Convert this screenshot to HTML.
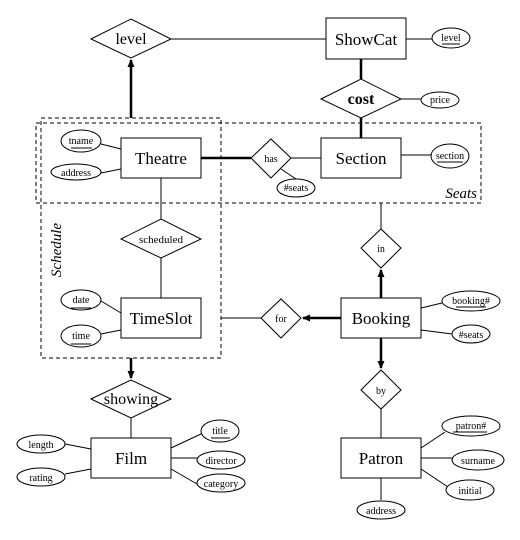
<!DOCTYPE html>
<html><head><style>body{margin:0;background:#fff}svg{display:block}</style></head><body>
<svg width="520" height="540" viewBox="0 0 520 540" xmlns="http://www.w3.org/2000/svg" font-family="Liberation Serif, serif">
<defs><marker id="ah" markerWidth="8" markerHeight="8" refX="7" refY="4" orient="auto" markerUnits="userSpaceOnUse"><path d="M0,0.5 L8,4 L0,7.5 Z" fill="#000"/></marker></defs>
<g fill="none" stroke="#000" stroke-width="1">
<rect x="41" y="118" width="180" height="240" stroke-dasharray="4,3"/>
<rect x="36" y="123" width="445" height="80" stroke-dasharray="4,3"/>
<line x1="171" y1="39" x2="326" y2="39"/>
<line x1="406" y1="39" x2="432" y2="39"/>
<line x1="401" y1="99" x2="421" y2="99"/>
<line x1="291" y1="158" x2="321" y2="158"/>
<line x1="401" y1="155" x2="431" y2="155"/>
<line x1="281" y1="169" x2="296" y2="179"/>
<line x1="101" y1="144" x2="121" y2="149"/>
<line x1="101" y1="173" x2="121" y2="169"/>
<line x1="161" y1="178" x2="161" y2="219"/>
<line x1="161" y1="258" x2="161" y2="298"/>
<line x1="381" y1="203" x2="381" y2="229"/>
<line x1="101" y1="301" x2="121" y2="313"/>
<line x1="101" y1="334" x2="121" y2="330"/>
<line x1="221" y1="318" x2="261" y2="318"/>
<line x1="421" y1="308" x2="442" y2="303"/>
<line x1="421" y1="330" x2="452" y2="334"/>
<line x1="381" y1="409" x2="381" y2="438"/>
<line x1="421" y1="448" x2="445" y2="432"/>
<line x1="421" y1="458" x2="452" y2="458"/>
<line x1="421" y1="469" x2="448" y2="487"/>
<line x1="381" y1="478" x2="381" y2="500"/>
<line x1="131" y1="418" x2="131" y2="438"/>
<line x1="65" y1="444" x2="91" y2="449"/>
<line x1="65" y1="474" x2="91" y2="469"/>
<line x1="171" y1="448" x2="201" y2="434"/>
<line x1="171" y1="458" x2="197" y2="458"/>
<line x1="171" y1="469" x2="197" y2="484"/>
<g stroke-width="2.5">
<line x1="361" y1="59" x2="361" y2="79"/>
<line x1="361" y1="118" x2="361" y2="138"/>
<line x1="201" y1="158" x2="251" y2="158"/>
<line x1="131" y1="118" x2="131" y2="60" marker-end="url(#ah)"/>
<line x1="341" y1="318" x2="303" y2="318" marker-end="url(#ah)"/>
<line x1="381" y1="298" x2="381" y2="270" marker-end="url(#ah)"/>
<line x1="381" y1="338" x2="381" y2="368" marker-end="url(#ah)"/>
<line x1="131" y1="358" x2="131" y2="378" marker-end="url(#ah)"/>
</g>
<rect x="326" y="18" width="80" height="41" fill="#fff"/>
<rect x="121" y="138" width="80" height="40" fill="#fff"/>
<rect x="321" y="138" width="80" height="40" fill="#fff"/>
<rect x="121" y="298" width="80" height="40" fill="#fff"/>
<rect x="341" y="298" width="80" height="40" fill="#fff"/>
<rect x="91" y="438" width="80" height="40" fill="#fff"/>
<rect x="341" y="438" width="80" height="40" fill="#fff"/>
<polygon points="91,39 131,19 171,39 131,58" fill="#fff"/>
<polygon points="321,99 361,79 401,99 361,118" fill="#fff"/>
<polygon points="251,158 271,139 291,158 271,178" fill="#fff"/>
<polygon points="121,239 161,219 201,239 161,258" fill="#fff"/>
<polygon points="361,248 381,229 401,248 381,268" fill="#fff"/>
<polygon points="261,318 281,299 301,318 281,338" fill="#fff"/>
<polygon points="361,390 381,370 401,390 381,409" fill="#fff"/>
<polygon points="91,399 131,380 171,399 131,418" fill="#fff"/>
<ellipse cx="451" cy="38" rx="19" ry="10" fill="#fff"/>
<ellipse cx="440" cy="100" rx="19" ry="8" fill="#fff"/>
<ellipse cx="81" cy="141" rx="20" ry="11" fill="#fff"/>
<ellipse cx="76" cy="172" rx="25" ry="8" fill="#fff"/>
<ellipse cx="450" cy="156" rx="19" ry="12" fill="#fff"/>
<ellipse cx="296" cy="188" rx="19" ry="9" fill="#fff"/>
<ellipse cx="81" cy="300" rx="20" ry="10" fill="#fff"/>
<ellipse cx="81" cy="336" rx="20" ry="11" fill="#fff"/>
<ellipse cx="471" cy="301" rx="29" ry="10" fill="#fff"/>
<ellipse cx="471" cy="334" rx="19" ry="9" fill="#fff"/>
<ellipse cx="471" cy="426" rx="29" ry="10" fill="#fff"/>
<ellipse cx="478" cy="460" rx="26" ry="10" fill="#fff"/>
<ellipse cx="470" cy="490" rx="24" ry="10" fill="#fff"/>
<ellipse cx="381" cy="510" rx="24" ry="9" fill="#fff"/>
<ellipse cx="41" cy="444" rx="24" ry="9" fill="#fff"/>
<ellipse cx="41" cy="477" rx="24" ry="9" fill="#fff"/>
<ellipse cx="220" cy="431" rx="19" ry="11" fill="#fff"/>
<ellipse cx="221" cy="460" rx="24" ry="9" fill="#fff"/>
<ellipse cx="221" cy="483" rx="24" ry="9" fill="#fff"/>
<line x1="442" y1="44" x2="460" y2="44"/>
<line x1="71" y1="148" x2="92" y2="148"/>
<line x1="437" y1="162" x2="463" y2="162"/>
<line x1="71" y1="308" x2="91" y2="308"/>
<line x1="71" y1="344" x2="91" y2="344"/>
<line x1="456" y1="307" x2="486" y2="307"/>
<line x1="453" y1="432" x2="487" y2="432"/>
<line x1="211" y1="438" x2="230" y2="438"/>
</g>
<g text-anchor="middle" font-size="17">
<text x="366" y="45">ShowCat</text>
<text x="161" y="164">Theatre</text>
<text x="361" y="164">Section</text>
<text x="161" y="324">TimeSlot</text>
<text x="381" y="324">Booking</text>
<text x="131" y="464">Film</text>
<text x="381" y="464">Patron</text>
</g>
<g text-anchor="middle" font-size="16">
<text x="131" y="44">level</text>
<text x="361" y="104" font-weight="bold">cost</text>
<text x="131" y="404">showing</text>
</g>
<g text-anchor="middle" font-size="10">
<text x="451" y="41">level</text>
<text x="440" y="103">price</text>
<text x="81" y="144">tname</text>
<text x="76" y="176">address</text>
<text x="450" y="159">section</text>
<text x="296" y="191">#seats</text>
<text x="271" y="162">has</text>
<text x="161" y="243" font-size="11">scheduled</text>
<text x="381" y="252">in</text>
<text x="281" y="322">for</text>
<text x="381" y="394">by</text>
<text x="81" y="303">date</text>
<text x="81" y="339">time</text>
<text x="471" y="304">booking#</text>
<text x="471" y="338">#seats</text>
<text x="471" y="429">patron#</text>
<text x="478" y="464">surname</text>
<text x="470" y="494">initial</text>
<text x="381" y="514">address</text>
<text x="41" y="448">length</text>
<text x="41" y="481">rating</text>
<text x="220" y="434">title</text>
<text x="221" y="464">director</text>
<text x="221" y="487">category</text>
</g>
<text x="477" y="198" font-size="15" font-style="italic" text-anchor="end">Seats</text>
<text transform="translate(61,250) rotate(-90)" font-size="15" font-style="italic" text-anchor="middle">Schedule</text>
</svg>
</body></html>
